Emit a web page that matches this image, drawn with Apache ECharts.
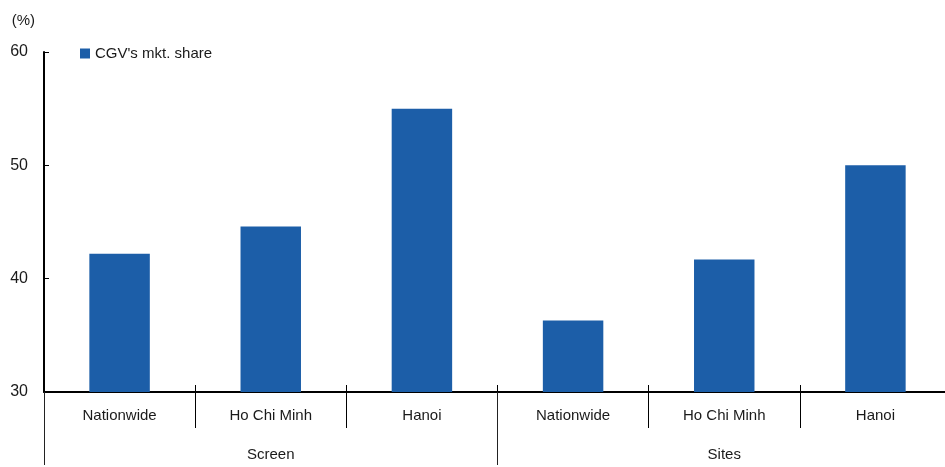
<!DOCTYPE html>
<html>
<head>
<meta charset="utf-8">
<script src="https://cdn.jsdelivr.net/npm/echarts@6/dist/echarts.min.js"></script>
<style>
  html, body { margin: 0; padding: 0; background: #fff; overflow: hidden; }
  #chart { width: 945px; height: 467px; }
</style>
</head>
<body>
<div id="chart"></div>
<script>
// CGV market share by screens and by sites
const categories = ['Nationwide', 'Ho Chi Minh', 'Hanoi', 'Nationwide', 'Ho Chi Minh', 'Hanoi'];
const groups = ['Screen', 'Sites'];
const shareValues = [42.2, 44.6, 55.0, 36.3, 41.7, 50.0];
const seriesName = "CGV's mkt. share";
const yTicks = { min: 30, max: 60, interval: 10 };

const FONT = '"Liberation Sans", Arial, sans-serif';
const TEXT = '#1a1a1a';

const chart = echarts.init(document.getElementById('chart'), null, { renderer: 'canvas' });

chart.setOption({
  animation: false,
  backgroundColor: '#ffffff',
  textStyle: { fontFamily: FONT, color: TEXT },
  // plot runs slightly past the right edge of the canvas
  grid: { left: 44, width: 907, top: 52, bottom: 75, containLabel: false, outerBoundsMode: 'none' },
  legend: {
    data: [seriesName],
    left: 75, top: 41,
    icon: 'rect', itemWidth: 10, itemHeight: 10, itemGap: 3,
    textStyle: { fontFamily: FONT, fontSize: 15, color: TEXT }
  },
  xAxis: [
    {
      // first level: city labels with divider ticks below the axis
      type: 'category', data: categories, position: 'bottom',
      axisLine: { show: true, lineStyle: { color: '#000', width: 2 } },
      axisTick: { show: true, inside: false, length: 36, lineStyle: { color: '#000', width: 1 } },
      axisLabel: { margin: 16, fontSize: 15, color: TEXT, fontFamily: FONT },
      splitLine: { show: false }
    },
    {
      // second level: group labels with long divider ticks
      type: 'category', data: groups, position: 'bottom',
      axisLine: { show: false },
      axisTick: { show: true, inside: false, length: 73, lineStyle: { color: '#222', width: 1 } },
      axisLabel: { margin: 55, fontSize: 15, color: TEXT, fontFamily: FONT },
      splitLine: { show: false }
    },
    {
      // short divider stubs above the axis line
      type: 'category', data: categories, position: 'bottom',
      axisLine: { show: false },
      axisTick: { show: true, inside: true, length: 7, lineStyle: { color: '#000', width: 1 } },
      axisLabel: { show: false },
      splitLine: { show: false }
    }
  ],
  yAxis: {
    type: 'value', min: yTicks.min, max: yTicks.max, interval: yTicks.interval,
    name: '(%)',
    nameLocation: 'end', nameGap: 24,
    nameTextStyle: { fontSize: 15, color: TEXT, fontFamily: FONT, align: 'right', padding: [0, 9, 0, 0] },
    axisLine: { show: true, lineStyle: { color: '#000', width: 2 } },
    axisTick: { show: true, inside: true, length: 5, lineStyle: { color: '#000', width: 1 } },
    axisLabel: { margin: 16, fontSize: 16, color: TEXT, fontFamily: FONT },
    splitLine: { show: false }
  },
  series: [{
    name: seriesName,
    type: 'bar',
    xAxisIndex: 0,
    data: shareValues,
    barWidth: '40%',
    itemStyle: { color: '#1c5ea8' }
  }]
});
</script>
</body>
</html>
